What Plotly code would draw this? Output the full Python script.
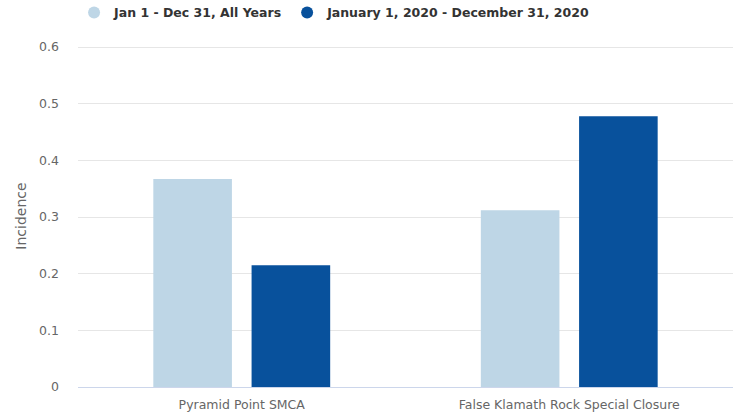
import plotly.graph_objects as go

categories = ["Pyramid Point SMCA", "False Klamath Rock Special Closure"]
series_names = ["Jan 1 - Dec 31, All Years", "January 1, 2020 - December 31, 2020"]
all_years = [0.367, 0.312]
year_2020 = [0.215, 0.478]
colors = ["#bed6e6", "#08519c"]
y_ticks = [0, 0.1, 0.2, 0.3, 0.4, 0.5, 0.6]
y_tick_labels = ["0", "0.1", "0.2", "0.3", "0.4", "0.5", "0.6"]

fig = go.Figure()
for vals, name, col, off in zip([all_years, year_2020], series_names, colors, [-0.27, 0.03]):
    fig.add_trace(go.Bar(x=categories, y=vals, name=name, marker_color=col,
                         marker_line_width=0, width=0.24, offset=off, showlegend=False))
for name, col in zip(series_names, colors):
    fig.add_trace(go.Scatter(x=[None], y=[None], mode="markers", name="<b>" + name + "</b>",
                             marker=dict(symbol="circle", size=12, color=col)))

fig.update_layout(
    width=741, height=419,
    margin=dict(l=78, r=8, t=45, b=32, autoexpand=False),
    paper_bgcolor="white", plot_bgcolor="white",
    barmode="overlay",
    font=dict(family="DejaVu Sans", color="#666666", size=12.5),
    showlegend=True,
    legend=dict(orientation="h", x=-0.006, xanchor="left", y=1.0936, yanchor="middle",
                font=dict(size=12.5, color="#333333", family="DejaVu Sans"),
                itemwidth=30, tracegroupgap=0),
    xaxis=dict(showgrid=False, showline=True, linecolor="#ccd6eb", linewidth=1,
               ticks="", ticklabelstandoff=6, tickfont=dict(size=12.5, color="#666666")),
    yaxis=dict(range=[0, 0.6036], tickvals=y_ticks, ticktext=y_tick_labels,
               showgrid=True, gridcolor="#e6e6e6", zeroline=False,
               ticks="", ticklabelstandoff=18,
               tickfont=dict(size=12.5, color="#666666"),
               title=dict(text="Incidence", font=dict(size=14, color="#666666"), standoff=9)),
)
fig.write_html("out.html", config={"displayModeBar": False},
               post_script="document.body.style.margin='0px';")
